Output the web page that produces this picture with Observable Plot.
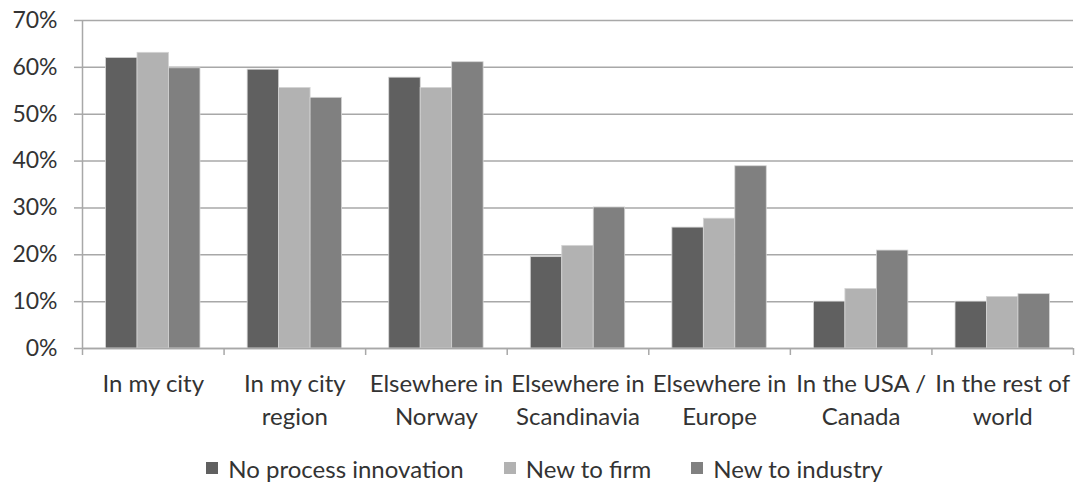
<!DOCTYPE html>
<html>
<head>
<meta charset="utf-8">
<script src="https://cdn.jsdelivr.net/npm/d3@7"></script>
<script src="https://cdn.jsdelivr.net/npm/@observablehq/plot@0.6"></script>
<style>
  html, body { margin: 0; padding: 0; background: #fff; }
  body { width: 1079px; height: 491px; overflow: hidden; font-family: Lato, "Open Sans", sans-serif; color: #333; }
  #legend { display: flex; justify-content: center; align-items: center; gap: 40px; height: 46px; font-size: 24px; padding-left: 10px; }
  #legend .item { display: flex; align-items: center; gap: 10px; }
  #legend .sw { width: 12px; height: 12px; display: inline-block; }
</style>
</head>
<body>
<div id="chart"></div>
<div id="legend"></div>
<script>
const categories = [
  "In my city",
  "In my city\nregion",
  "Elsewhere in\nNorway",
  "Elsewhere in\nScandinavia",
  "Elsewhere in\nEurope",
  "In the USA /\nCanada",
  "In the rest of\nworld"
];
const seriesNames = ["No process innovation", "New to firm", "New to industry"];
const noProcess     = [0.620, 0.595, 0.578, 0.195, 0.258, 0.100, 0.100];
const newToFirm     = [0.631, 0.556, 0.556, 0.219, 0.277, 0.127, 0.110];
const newToIndustry = [0.598, 0.535, 0.611, 0.301, 0.389, 0.209, 0.116];
const seriesColors  = ["#606060", "#b2b2b2", "#808080"];
const yTicks = [0, 0.1, 0.2, 0.3, 0.4, 0.5, 0.6, 0.7];

const seriesValues = [noProcess, newToFirm, newToIndustry];
const rows = [];
categories.forEach((c, ci) => {
  seriesNames.forEach((s, si) => {
    rows.push({ci, si, category: c, series: s, value: seriesValues[si][ci]});
  });
});

const gap = 1 / 6;       // outer gap in category units (Excel gap width 150%)
const barW = 2 / 9;      // each bar width in category units

const chart = Plot.plot({
  width: 1079,
  height: 445,
  marginLeft: 82,
  marginRight: 6,
  marginTop: 20,
  marginBottom: 97,
  style: {fontFamily: "Lato, 'Open Sans', sans-serif", fontSize: "23px", color: "#333", background: "white"},
  x: {domain: [0, categories.length], axis: null},
  y: {domain: [0, 0.7], axis: null},
  color: {domain: seriesNames, range: seriesColors},
  marks: [
    Plot.gridY(yTicks, {stroke: "#a8a8a8", strokeOpacity: 1, strokeWidth: 1.5}),
    Plot.rectY(rows, {
      x1: d => d.ci + gap + d.si * barW,
      x2: d => d.ci + gap + (d.si + 1) * barW,
      y: "value",
      fill: "series",
      stroke: "#d4d4d4",
      strokeWidth: 0.8
    }),
    Plot.ruleY([0], {stroke: "#a8a8a8", strokeWidth: 1.5}),
    Plot.ruleX([0], {stroke: "#a8a8a8", strokeWidth: 1.5}),
    Plot.axisY({
      ticks: yTicks,
      tickFormat: d3.format(".0%"),
      tickSize: 8,
      tickPadding: 17,
      label: null,
      stroke: "#a8a8a8",
      strokeWidth: 1.5,
      fontSize: 23,
      fill: "#333"
    }),
    Plot.axisX({
      ticks: d3.range(categories.length + 1),
      tickFormat: () => "",
      tickSize: 7,
      label: null,
      stroke: "#a8a8a8",
      strokeWidth: 1.5
    }),
    Plot.axisX({
      ticks: d3.range(categories.length).map(i => i + 0.5),
      tickFormat: d => categories[Math.floor(d)],
      tickSize: 0,
      tickPadding: 20,
      label: null,
      lineHeight: 1.38,
      fontSize: 24,
      fill: "#333"
    })
  ]
});
document.getElementById("chart").appendChild(chart);

const legend = document.getElementById("legend");
seriesNames.forEach((s, i) => {
  const item = document.createElement("span");
  item.className = "item";
  const sw = document.createElement("span");
  sw.className = "sw";
  sw.style.background = seriesColors[i];
  const t = document.createElement("span");
  t.textContent = s;
  item.appendChild(sw);
  item.appendChild(t);
  legend.appendChild(item);
});
</script>
</body>
</html>
